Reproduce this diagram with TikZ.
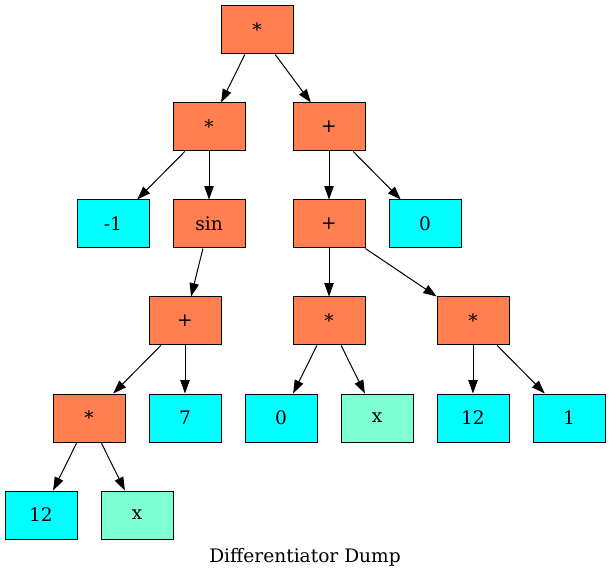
\documentclass[tikz,border=0pt]{standalone}
\usepackage{fontspec}
\setmainfont{DejaVu Serif}
\usetikzlibrary{positioning,arrows.meta}

\tikzset{
    opnode/.style={draw=black, line width=1pt, rectangle, fill=coralop, minimum width=72pt, minimum height=48pt, inner sep=0pt, font=\fontsize{18.6}{20}\selectfont},
    numnode/.style={opnode, fill=cyanum},
    varnode/.style={opnode, fill=aquavar},
    edge/.style={-{Triangle[length=13.3pt, width=9.3pt]}, black, line width=1pt}
}
\definecolor{coralop}{HTML}{FF7F50}
\definecolor{cyanum}{HTML}{00FFFF}
\definecolor{aquavar}{HTML}{7FFFD4}

\begin{document}
\begin{tikzpicture}[x=1pt, y=-1pt, on grid]
    \useasboundingbox (0,0) rectangle (611,580);
    \node (Root) [opnode] at (257,30) {*};
    \node (MulA) [opnode, below left=97pt and 48pt of Root] {*};
    \node (AddA) [opnode, below right=97pt and 72pt of Root] {+};
    \node (NegOne) [numnode, below left=97pt and 96pt of MulA] {-1};
    \node (Sin) [opnode, below=97pt of MulA] {sin};
    \node (AddB) [opnode, below=97pt of AddA] {+};
    \node (ZeroA) [numnode, below right=97pt and 96pt of AddA] {0};
    \node (AddC) [opnode, below left=97pt and 24pt of Sin] {+};
    \node (MulB) [opnode, below=97pt of AddB] {*};
    \node (MulC) [opnode, below right=97pt and 144pt of AddB] {*};
    \node (MulD) [opnode, below left=97pt and 96pt of AddC] {*};
    \node (Seven) [numnode, below=97pt of AddC] {7};
    \node (ZeroB) [numnode, below left=97pt and 48pt of MulB] {0};
    \node (XA) [varnode, below right=97pt and 48pt of MulB] {x};
    \node (TwelveA) [numnode, below=97pt of MulC] {12};
    \node (One) [numnode, below right=97pt and 96pt of MulC] {1};
    \node (TwelveB) [numnode, below left=97pt and 48pt of MulD] {12};
    \node (XB) [varnode, below right=97pt and 48pt of MulD] {x};
    \node (Caption) [font=\fontsize{18.6}{20}\selectfont] at (305,557) {Differentiator Dump};

    \draw[edge] (Root) -- (MulA);
    \draw[edge] (Root) -- (AddA);
    \draw[edge] (MulA) -- (NegOne);
    \draw[edge] (MulA) -- (Sin);
    \draw[edge] (Sin) -- (AddC);
    \draw[edge] (AddC) -- (MulD);
    \draw[edge] (AddC) -- (Seven);
    \draw[edge] (MulD) -- (TwelveB);
    \draw[edge] (MulD) -- (XB);
    \draw[edge] (AddA) -- (AddB);
    \draw[edge] (AddA) -- (ZeroA);
    \draw[edge] (AddB) -- (MulB);
    \draw[edge] (AddB) -- (MulC);
    \draw[edge] (MulB) -- (ZeroB);
    \draw[edge] (MulB) -- (XA);
    \draw[edge] (MulC) -- (TwelveA);
    \draw[edge] (MulC) -- (One);
\end{tikzpicture}
\end{document}
